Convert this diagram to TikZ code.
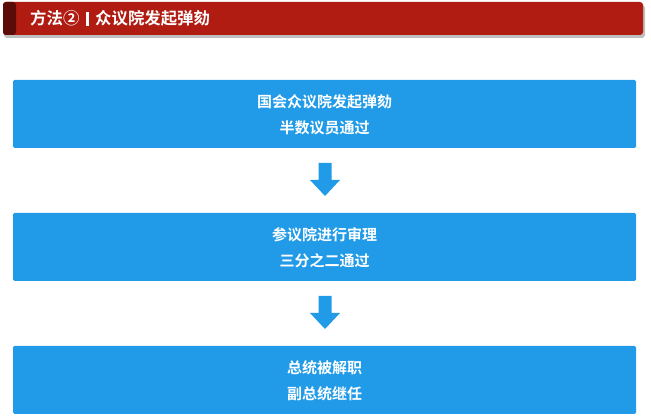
\documentclass[tikz,border=0pt]{standalone}
\usepackage{fontspec}
\newfontfamily\cjk{Noto Sans CJK SC}[BoldFont={* Bold}]
\definecolor{boxblue}{RGB}{33,155,232}
\definecolor{hdrred}{RGB}{176,28,18}
\definecolor{hdrdark}{RGB}{92,12,8}
\tikzset{
  stagebox/.style={fill=boxblue, draw=none, rounded corners=1.5pt},
  stagetext/.style={text=white, font=\cjk\bfseries\fontsize{15}{26}\selectfont, align=center},
  downarrow/.style={fill=boxblue, draw=none},
  titletext/.style={anchor=west, text=white, font=\cjk\bfseries\fontsize{16.4}{18}\selectfont, inner sep=0pt},
}
\begin{document}
\begin{tikzpicture}[x=1pt,y=-1pt]
\useasboundingbox (0,0) rectangle (651,419);
% header
\fill[black!25, rounded corners=3pt] (4,5) rectangle (645,38);
\fill[hdrred, rounded corners=3pt] (3,2) rectangle (643,35);
\fill[hdrdark, rounded corners=3pt] (3,2) rectangle (16,35);
\fill[hdrdark] (10,2) rectangle (14,35);
\node[titletext] (title1) at (30,18.5) {方法②};
\fill[white] (86,12) rectangle (89,26);
\node[titletext] (title2) at (95,18.5) {众议院发起弹劾};
% boxes
\path[stagebox] (13,80) rectangle (636,148);
\node[stagetext] (b1) at (324.5,115) {国会众议院发起弹劾\\半数议员通过};
\path[stagebox] (13,213) rectangle (636,281);
\node[stagetext] (b2) at (324.5,248) {参议院进行审理\\三分之二通过};
\path[stagebox] (13,346) rectangle (636,414);
\node[stagetext] (b3) at (324.5,381) {总统被解职\\副总统继任};
% arrows
\foreach \y in {148,281}{
  \path[downarrow] (318.5,\y+15) -- (331.5,\y+15) -- (331.5,\y+32) -- (340,\y+32) -- (325,\y+48) -- (310,\y+32) -- (318.5,\y+32) -- cycle;
}
\end{tikzpicture}
\end{document}
